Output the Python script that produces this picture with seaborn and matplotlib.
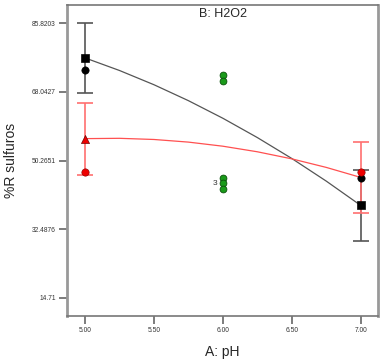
import numpy as np
import pandas as pd
import seaborn as sns
import matplotlib.pyplot as plt

# model curves
curve_ph = [5.0, 5.25, 5.5, 5.75, 6.0, 6.25, 6.5, 6.75, 7.0]
curve_black = [76.8, 73.55, 69.87, 65.75, 61.2, 56.21, 50.80, 44.95, 38.66]
curve_red = [55.93, 56.01, 55.71, 55.03, 53.97, 52.53, 50.70, 48.49, 45.9]

# observed points
black_pts_ph = [5.0, 7.0]
black_pts_y = [73.7, 45.7]
red_pts_ph = [5.0, 7.0]
red_pts_y = [47.24, 47.24]
green_pts_ph = [6.0, 6.0, 6.0, 6.0, 6.0]
green_pts_y = [72.4, 70.9, 45.8, 44.33, 42.8]

# predicted ends with error bars
black_end_ph = [5.0, 7.0]
black_end_y = [76.8, 38.66]
black_err = [9.1, 9.1]
red_end_ph = [5.0, 7.0]
red_end_y = [55.93, 45.9]
red_err = [9.3, 9.2]

y_ticks = [14.71, 32.4876, 50.2651, 68.0427, 85.8203]
x_ticks = [5.0, 5.5, 6.0, 6.5, 7.0]

sns.set_style("white")
plt.rcParams['font.family'] = ['Liberation Sans', 'DejaVu Sans']

fig = plt.figure(figsize=(3.81, 3.63), dpi=100)
ax = fig.add_axes([0.176, 0.1295, 0.816, 0.8565])

curves = pd.DataFrame({"ph": curve_ph, "black": curve_black, "red": curve_red})
sns.lineplot(data=curves, x="ph", y="black", color="#555555", lw=0.9, ax=ax)
sns.lineplot(data=curves, x="ph", y="red", color="#ff5050", lw=0.9, ax=ax)

ax.errorbar(black_end_ph, black_end_y, yerr=black_err, fmt="none",
            ecolor="#555555", elinewidth=1.2, capsize=5.5, capthick=1.2, zorder=3)
ax.errorbar(red_end_ph, red_end_y, yerr=red_err, fmt="none",
            ecolor="#ff7070", elinewidth=1.2, capsize=5.5, capthick=1.2, zorder=3)

sns.scatterplot(x=black_end_ph, y=black_end_y, marker="s", color="black",
                s=34, edgecolor="black", ax=ax, zorder=5)
sns.scatterplot(x=[red_end_ph[0]], y=[red_end_y[0]], marker="^", color="#ee0000",
                s=34, edgecolor="#660000", ax=ax, zorder=5)
sns.scatterplot(x=black_pts_ph, y=black_pts_y, marker="o", color="black",
                s=28, edgecolor="black", ax=ax, zorder=5)
sns.scatterplot(x=red_pts_ph, y=red_pts_y, marker="o", color="#ee0000",
                s=28, edgecolor="#880000", ax=ax, zorder=5)
sns.scatterplot(x=green_pts_ph, y=green_pts_y, marker="o", color="#1a9a1a",
                s=24, edgecolor="#0a500a", linewidth=0.6, ax=ax, zorder=5)
ax.text(5.96, 44.33, "3", fontsize=6, ha="right", va="center", color="#333333")

ax.set_xlim(4.8694, 7.1255)
ax.set_ylim(10.056, 90.47)
ax.set_xticks(x_ticks)
ax.set_xticklabels([f"{v:.2f}" for v in x_ticks])
ax.set_yticks(y_ticks)
ax.set_yticklabels(["14.71", "32.4876", "50.2651", "68.0427", "85.8203"])
ax.tick_params(axis="both", direction="out", length=6, width=1.2, color="#666666",
               labelsize=4.8, labelcolor="#333333", pad=2, left=True, bottom=True)

for side in ["left", "right"]:
    ax.spines[side].set_color("#999999")
    ax.spines[side].set_linewidth(2)
for side in ["top", "bottom"]:
    ax.spines[side].set_color("#777777")
    ax.spines[side].set_linewidth(1.2)

ax.set_xlabel("A: pH", fontsize=10, labelpad=8)
ax.set_ylabel("%R sulfuros", fontsize=10, labelpad=10)
ax.text(6.0, 88.2, "B: H2O2", fontsize=9, ha="center", va="center")

fig.savefig("out.png", dpi=100)
